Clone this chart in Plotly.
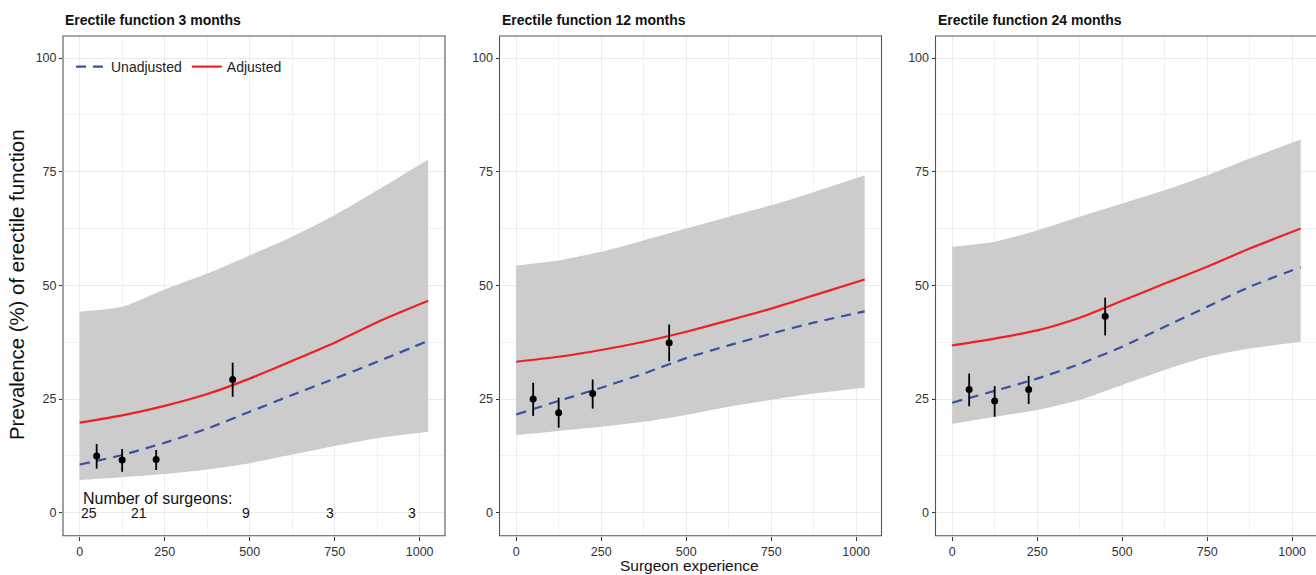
import plotly.graph_objects as go

# ---------------- data ----------------
panel_titles = ["Erectile function 3 months", "Erectile function 12 months", "Erectile function 24 months"]
x_grid = [0, 125, 250, 375, 500, 625, 750, 875, 1025]

upper_3m = [44.2, 45.3, 49.1, 52.6, 56.6, 60.7, 65.4, 70.9, 77.7]
lower_3m = [7.2, 7.8, 8.5, 9.5, 10.9, 12.8, 14.7, 16.4, 17.8]
adjusted_3m = [19.8, 21.4, 23.5, 26.1, 29.5, 33.4, 37.4, 41.9, 46.6]
unadjusted_3m = [10.6, 12.7, 15.4, 18.5, 22.2, 25.9, 29.5, 33.2, 37.8]

upper_12m = [54.4, 55.5, 57.4, 59.9, 62.5, 65.1, 67.6, 70.5, 74.2]
lower_12m = [17.1, 18.0, 18.9, 20.0, 21.5, 23.3, 24.8, 26.2, 27.5]
adjusted_12m = [33.2, 34.3, 35.8, 37.6, 39.8, 42.3, 44.9, 47.8, 51.3]
unadjusted_12m = [21.6, 24.6, 27.5, 30.6, 34.0, 36.8, 39.4, 41.8, 44.3]

upper_24m = [58.5, 59.6, 62.1, 65.1, 68.0, 70.9, 74.2, 77.9, 82.1]
lower_24m = [19.5, 21.1, 22.6, 24.8, 28.1, 31.4, 34.3, 36.1, 37.6]
adjusted_24m = [36.8, 38.3, 40.1, 42.9, 46.6, 50.4, 54.1, 58.1, 62.5]
unadjusted_24m = [24.2, 26.8, 29.5, 32.7, 36.5, 40.9, 45.3, 49.7, 54.0]

x_pts = [50, 125, 225, 450]
obs_3m = [12.5, 11.6, 11.7, 29.3]
obs_lo_3m = [9.7, 9.0, 9.4, 25.5]
obs_hi_3m = [15.1, 14.0, 13.8, 33.0]
obs_12m = [25.0, 22.0, 26.2, 37.4]
obs_lo_12m = [21.3, 18.7, 22.9, 33.3]
obs_hi_12m = [28.6, 25.3, 29.3, 41.4]
obs_24m = [27.1, 24.6, 27.1, 43.2]
obs_lo_24m = [23.4, 21.1, 23.9, 39.0]
obs_hi_24m = [30.6, 27.9, 30.1, 47.3]

surgeon_counts = ["25", "21", "9", "3", "3"]
surgeon_x = [27, 175, 488, 736, 977]

x_ticks = [0, 250, 500, 750, 1000]
y_ticks = [0, 25, 50, 75, 100]

# ---------------- layout constants ----------------
W, H = 1316, 575
FONT = "Liberation Sans, Arial, sans-serif"
RED = "#EE1F25"
BLUE = "#3A50A6"
BAND = "#CCCCCC"
GRID = "#EBEBEB"

panels_px = [(63, 445), (499.5, 881.5), (935.5, 1317.5)]
y_top_px, y_bot_px = 36, 535.7
x_range_left = -49.0
px_per_unit = 382 / 1123.5

panels = [
    (upper_3m, lower_3m, adjusted_3m, unadjusted_3m, obs_3m, obs_lo_3m, obs_hi_3m),
    (upper_12m, lower_12m, adjusted_12m, unadjusted_12m, obs_12m, obs_lo_12m, obs_hi_12m),
    (upper_24m, lower_24m, adjusted_24m, unadjusted_24m, obs_24m, obs_lo_24m, obs_hi_24m),
]

fig = go.Figure()
layout = dict(
    width=W, height=H, margin=dict(l=0, r=0, t=0, b=0),
    paper_bgcolor="white", plot_bgcolor="white",
    font=dict(family=FONT, color="#222222"),
    showlegend=True,
    legend=dict(orientation="h", x=71 / W, y=1 - 51 / H, xanchor="left", yanchor="top",
                traceorder="normal",
                bgcolor="rgba(255,255,255,0)", font=dict(size=14, family=FONT, color="#222222"),
                itemwidth=30, tracegroupgap=0),
)
shapes = []
annotations = []

for i, (up, lo, adj, unadj, obs, olo, ohi) in enumerate(panels):
    k = "" if i == 0 else str(i + 1)
    xa, ya = "x" + k, "y" + k
    left_px, right_px = panels_px[i]
    dom_right = min(right_px, W) / W
    x_right = x_range_left + (min(right_px, W) - left_px) / px_per_unit

    # band: lower edge, then upper edge filled down to it
    fig.add_trace(go.Scatter(x=x_grid, y=lo, mode="lines",
                             line=dict(width=0, color=BAND, shape="spline", smoothing=0.6),
                             hoverinfo="skip", showlegend=False, xaxis=xa, yaxis=ya))
    fig.add_trace(go.Scatter(x=x_grid, y=up, mode="lines", fill="tonexty", fillcolor=BAND,
                             line=dict(width=0, color=BAND, shape="spline", smoothing=0.6),
                             hoverinfo="skip", showlegend=False, xaxis=xa, yaxis=ya))
    fig.add_trace(go.Scatter(x=x_grid, y=unadj, mode="lines", name="Unadjusted",
                             line=dict(color=BLUE, width=2.2, dash="10px,7px", shape="spline", smoothing=0.6),
                             showlegend=(i == 0), xaxis=xa, yaxis=ya))
    fig.add_trace(go.Scatter(x=x_grid, y=adj, mode="lines", name="Adjusted",
                             line=dict(color=RED, width=2.2, shape="spline", smoothing=0.6),
                             showlegend=(i == 0), xaxis=xa, yaxis=ya))
    fig.add_trace(go.Scatter(
        x=x_pts, y=obs, mode="markers",
        marker=dict(color="black", size=7),
        error_y=dict(type="data", symmetric=False,
                     array=[h - v for h, v in zip(ohi, obs)],
                     arrayminus=[v - l for v, l in zip(obs, olo)],
                     width=0, thickness=1.8, color="black"),
        showlegend=False, xaxis=xa, yaxis=ya))

    layout["xaxis" + k] = dict(
        domain=[left_px / W, dom_right], range=[x_range_left, x_right], anchor=ya,
        tickvals=x_ticks, ticks="outside", ticklen=4, tickcolor="#333333", tickwidth=1,
        tickfont=dict(size=12.5, family=FONT, color="#333333"),
        showgrid=True, gridcolor=GRID, gridwidth=1.1, zeroline=False, showline=False,
        minor=dict(dtick=125, tick0=0, showgrid=True, gridcolor="#F2F2F2", gridwidth=0.7, ticks=""),
    )
    layout["yaxis" + k] = dict(
        domain=[1 - y_bot_px / H, 1 - y_top_px / H], range=[-5.05, 104.85], anchor=xa,
        tickvals=y_ticks, ticks="outside", ticklen=3, tickcolor="#333333", tickwidth=1,
        tickfont=dict(size=12.5, family=FONT, color="#333333"),
        showgrid=True, gridcolor=GRID, gridwidth=1.1, zeroline=False, showline=False,
        minor=dict(dtick=12.5, tick0=0, showgrid=True, gridcolor="#F2F2F2", gridwidth=0.7, ticks=""),
    )
    shapes.append(dict(type="rect", xref="paper", yref="paper",
                       x0=left_px / W, x1=right_px / W, y0=1 - y_bot_px / H, y1=1 - y_top_px / H,
                       line=dict(color="#555555", width=1.1), fillcolor="rgba(0,0,0,0)", layer="above"))
    annotations.append(dict(text="<b>" + panel_titles[i] + "</b>", xref="paper", yref="paper",
                            x=left_px / W, y=1 - 20 / H, xanchor="left", yanchor="middle",
                            showarrow=False, font=dict(size=14, family=FONT, color="#111111")))

# number of surgeons (panel 1)
annotations.append(dict(text="Number of surgeons:", xref="x", yref="y", x=3, y=3.1,
                        xanchor="left", yanchor="middle", showarrow=False,
                        font=dict(size=16, family=FONT, color="#111111")))
for xv, t in zip(surgeon_x, surgeon_counts):
    annotations.append(dict(text=t, xref="x", yref="y", x=xv, y=-0.1, xanchor="center",
                            yanchor="middle", showarrow=False,
                            font=dict(size=14, family=FONT, color="#111111")))

# axis titles
annotations.append(dict(text="Prevalence (%) of erectile function", xref="paper", yref="paper",
                        x=17 / W, y=1 - 285 / H, xanchor="center", yanchor="middle",
                        textangle=-90, showarrow=False,
                        font=dict(size=20.4, family=FONT, color="#111111")))
annotations.append(dict(text="Surgeon experience", xref="paper", yref="paper",
                        x=689.5 / W, y=1 - 565 / H, xanchor="center", yanchor="middle",
                        showarrow=False, font=dict(size=15.5, family=FONT, color="#111111")))

layout["shapes"] = shapes
layout["annotations"] = annotations
fig.update_layout(**layout)
fig.write_html(
    "out.html",
    config={"displayModeBar": False},
    post_script="document.body.style.margin='0';document.body.style.overflow='hidden';",
)
